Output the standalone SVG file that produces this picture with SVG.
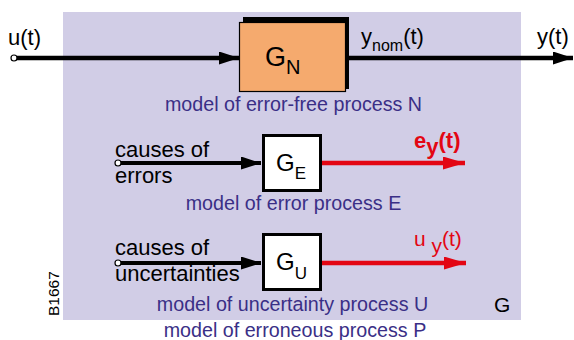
<svg xmlns="http://www.w3.org/2000/svg" width="574" height="340" viewBox="0 0 574 340">
<style>
text{font-family:"Liberation Sans",Arial,sans-serif}
.lbl{font-size:22px;fill:#000}
.blue{font-size:19.7px;fill:#3a2f86;text-anchor:middle}
.red{fill:#e30613}
.blk{stroke:#000;fill:none}
.rl{stroke:#e30613;stroke-width:4.5;fill:none}
</style>
<defs>
<marker id="ab" markerUnits="userSpaceOnUse" markerWidth="22" markerHeight="14" refX="20" refY="6.5" orient="auto"><path d="M0,0 L20,6.5 L0,13 Z" fill="#000"/></marker>
<marker id="ar" markerUnits="userSpaceOnUse" markerWidth="24" markerHeight="14" refX="22" refY="6.5" orient="auto"><path d="M0,0 L22,6.5 L0,13 Z" fill="#e30613"/></marker>
</defs>
<rect id="frame" x="63" y="12" width="458" height="308" fill="#d1cde6"/>
<g id="connectors">
<line class="blk" x1="14" y1="58" x2="239" y2="58" stroke-width="4.5" marker-end="url(#ab)"/>
<line class="blk" x1="346" y1="58" x2="573" y2="58" stroke-width="4.5" marker-end="url(#ab)"/>
<line class="blk" x1="118" y1="163" x2="261" y2="163" stroke-width="4" marker-end="url(#ab)"/>
<line class="blk" x1="118" y1="263" x2="261" y2="263" stroke-width="4" marker-end="url(#ab)"/>
<line class="rl" x1="322" y1="163" x2="465" y2="163" marker-end="url(#ar)"/>
<line class="rl" x1="322" y1="263" x2="466" y2="263" marker-end="url(#ar)"/>
<circle cx="14" cy="58" r="3" fill="#fff" stroke="#000" stroke-width="1.2"/>
<circle cx="118" cy="163" r="3" fill="#fff" stroke="#000" stroke-width="1.2"/>
<circle cx="118" cy="263" r="3" fill="#fff" stroke="#000" stroke-width="1.2"/>
</g>
<g id="GN">
<rect x="243" y="17" width="106" height="72" fill="#000"/>
<rect x="239.5" y="22.5" width="106" height="69" fill="#f5aa6e" stroke="#000" stroke-width="1.2"/>
<text x="265" y="66" font-size="27">G<tspan font-size="20" dy="8">N</tspan></text>
</g>
<g id="GE">
<rect x="263.5" y="135.5" width="57" height="55" fill="#fff" stroke="#000" stroke-width="3"/>
<text x="276" y="171" font-size="24">G<tspan font-size="17" dy="8">E</tspan></text>
</g>
<g id="GU">
<rect x="263.5" y="234.5" width="57" height="55" fill="#fff" stroke="#000" stroke-width="3"/>
<text x="276" y="270" font-size="24">G<tspan font-size="17" dy="9">U</tspan></text>
</g>
<g id="labels">
<text class="lbl" x="8" y="45">u(t)</text>
<text class="lbl" x="361" y="44">y<tspan font-size="16" dy="7">nom</tspan><tspan dy="-7">(t)</tspan></text>
<text class="lbl" x="537" y="44">y(t)</text>
<text class="lbl" x="115" y="157">causes of</text>
<text class="lbl" x="115" y="183">errors</text>
<text class="lbl" x="115" y="255">causes of</text>
<text class="lbl" x="115" y="281">uncertainties</text>
<text class="red" x="414" y="148" font-size="22" font-weight="bold">e<tspan dy="6">y</tspan><tspan dy="-6">(t)</tspan></text>
<text class="red" x="414" y="246" font-size="21">u <tspan dy="7">y</tspan><tspan dy="-7">(t)</tspan></text>
<text class="blue" x="293.5" y="111">model of error-free process N</text>
<text class="blue" x="293.5" y="210">model of error process E</text>
<text class="blue" x="292.5" y="311">model of uncertainty process U</text>
<text class="blue" x="295" y="337">model of erroneous process P</text>
<text x="494" y="312" font-size="21" fill="#000">G</text>
<text transform="translate(59,316) rotate(-90)" font-size="15.5" fill="#000">B1667</text>
</g>
</svg>
